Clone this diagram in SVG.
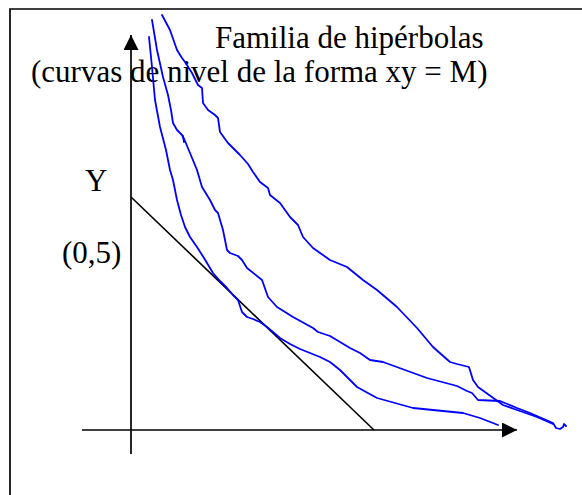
<svg xmlns="http://www.w3.org/2000/svg" width="582" height="495" viewBox="0 0 582 495">
<style>
.t{font-family:"Liberation Serif","Times New Roman",serif;font-size:31px;fill:#000}
.ax{stroke:#000;stroke-width:1.7;fill:none}
.hyp{stroke:#0000ff;stroke-width:1.8;fill:none;stroke-linejoin:round;stroke-linecap:round}
.frame{stroke:#000;stroke-width:1.7;fill:none}
</style>
<defs>
<marker id="arr" markerUnits="userSpaceOnUse" markerWidth="16" markerHeight="16" refX="15" refY="7.5" orient="auto">
<path d="M0,0 L15,7.5 L0,15 Z" fill="#000"/>
</marker>
</defs>
<rect width="582" height="495" fill="#fff"/>
<path class="frame" d="M10,495 V9 H582"/>
<g id="title">
<text class="t" x="215" y="48">Familia de hipérbolas</text>
<text class="t" x="31" y="82">(curvas de nivel de la forma xy = M)</text>
</g>
<g id="y-label"><text class="t" x="85" y="191">Y</text></g>
<g id="point-label"><text class="t" x="62" y="263">(0,5)</text></g>
<g id="connectors">
<path id="y-axis" class="ax" d="M131,454 V35" marker-end="url(#arr)"/>
<path id="x-axis" class="ax" d="M82,430 H517" marker-end="url(#arr)"/>
<path id="budget-line" d="M131,197 L374,430" stroke="#000" stroke-width="1.6" fill="none"/>
<polyline id="curve-1" class="hyp" points="149,37 152,67 155,100 160,127 166,150 170,170 173,180 177,200 181,215 185,227 190,237 197,247 204,258 213,273 220,281 227,288 233,295 238,300 242,312 247,317 253,319 260,322 267,327 280,338 290,344 300,349 320,357 330,362 340,370 357,387 377,398 413,408 463,413 480,418 498,425"/>
<polyline id="curve-2" class="hyp" points="152,20 157,50 163,77 168,95 171,110 173,123 177,130 182,135 185,141 190,153 197,170 202,187 210,200 215,210 218,213 223,230 227,250 230,253 238,256 242,260 247,268 262,280 268,297 277,307 293,317 313,328 318,332 330,336 350,348 360,353 370,360 383,362 427,378 457,386 467,391 472,393 478,400 500,401 517,408 530,413 553,423 556,428 560,429 563,427 564,424 566,426"/>
<path class="hyp" d="M183,136 L184,142"/>
<polyline id="curve-3" class="hyp" points="162,15 170,30 177,50 182,58 185,62 192,73 198,85 202,88 203,103 208,110 215,115 218,118 220,132 228,143 240,155 248,164 253,172 260,182 268,188 270,195 280,203 290,217 293,220 298,225 303,237 313,248 330,260 347,267 363,280 377,290 397,307 417,328 433,347 450,362 457,364 469,367 473,380 478,387 503,405 517,410 537,417 553,424"/>
</g>
</svg>
